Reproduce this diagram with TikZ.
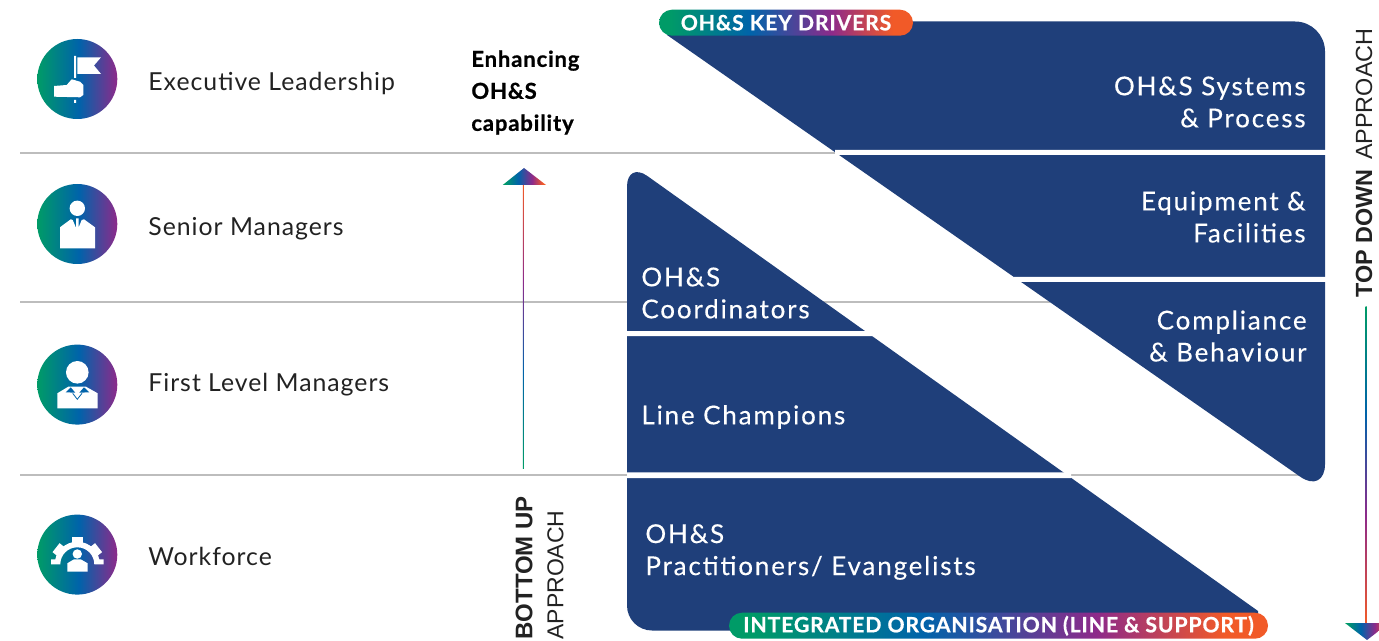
\documentclass[tikz,border=0pt]{standalone}
\usepackage{fontspec}
\usepackage{tikz}
\usetikzlibrary{calc, positioning}
\setmainfont[LetterSpace=4]{Lato}
\newfontfamily\approachfont{Liberation Sans}

\definecolor{ohsnavy}{HTML}{1F3F7A}
\definecolor{ohsgreen}{HTML}{009B67}
\definecolor{ohsblue}{HTML}{0063AA}
\definecolor{ohspurple}{HTML}{8D2A8A}
\definecolor{ohsorange}{HTML}{F15A28}
\definecolor{ohsrule}{HTML}{BDBDBD}
\definecolor{ohstext}{HTML}{222222}

\pgfdeclarehorizontalshading{ohsdisc}{100bp}{color(0bp)=(ohsgreen); color(25bp)=(ohsgreen); color(51bp)=(ohsblue); color(75bp)=(ohspurple); color(100bp)=(ohspurple)}
\pgfdeclarehorizontalshading{ohschip}{100bp}{color(0bp)=(ohsgreen); color(27bp)=(ohsgreen); color(43bp)=(ohsblue); color(59bp)=(ohspurple); color(71bp)=(ohsorange); color(100bp)=(ohsorange)}
\pgfdeclareverticalshading{ohsshaft}{100bp}{color(0bp)=(ohsgreen); color(25bp)=(ohsgreen); color(42bp)=(ohsblue); color(58bp)=(ohspurple); color(75bp)=(ohsorange); color(100bp)=(ohsorange)}

\tikzset{
    rowdisc/.style={circle, minimum size=40pt, inner sep=0pt, shade, shading=ohsdisc},
    rowlabel/.style={anchor=west, inner sep=0pt, text=ohstext, font=\fontsize{12.4}{16}\selectfont},
    panel/.style={fill=ohsnavy},
    gapband/.style={fill=white},
    paneltext/.style={inner sep=0pt, text=white, font=\fontsize{13}{16}\selectfont\addfontfeature{LetterSpace=7,FakeBold=0.25}},
    keychip/.style={rounded corners=6.5pt, inner sep=0pt, minimum height=13pt, shade, shading=ohschip, text=white, font=\fontsize{10.6}{12}\selectfont\bfseries\addfontfeature{FakeBold=0.6}},
    ruleline/.style={draw=ohsrule, line width=0.7pt},
    approach/.style={anchor=west, inner sep=0pt, rotate=90, text=ohstext},
    iconfill/.style={fill=white},
    collar/.style={fill=ohsblue}
}

\begin{document}
\begin{tikzpicture}[x=0.5pt, y=0.5pt]
                    \useasboundingbox (0, 0) rectangle (1379, -641);

                    \foreach \ypos/\xend in {153/835, 302/1050, 475/1300} {
                        \draw[ruleline] (20, -\ypos) -- (\xend, -\ypos);
                    }

                    \node[rowdisc] (exec) at (77.3, -79) {};
                    \node[rowdisc] (senior) at (77.3, -224) {};
                    \node[rowdisc] (first) at (77.3, -384.6) {};
                    \node[rowdisc] (work) at (77.3, -554.6) {};

                    \node[rowlabel] (execl) at (148, -83.5) {Executive Leadership};
                    \node[rowlabel] (seniorl) at (148, -228.5) {Senior Managers};
                    \node[rowlabel] (firstl) at (148, -384.5) {First Level Managers};
                    \node[rowlabel] (workl) at (148, -556) {Workforce};

                    % flag
                    \fill[iconfill]
                    (74, -56) rectangle (76, -78)
                    (74, -100) rectangle (76, -103)
                    (77.3, -57.3) -- (101, -57.3) -- (94, -65.5) -- (101, -74) -- (77.3, -74) -- cycle
                    (54, -86) -- (66.7, -85) -- (71.7, -79.3) -- (80, -81.7) -- (83.3, -85) -- (83.3, -95) -- (80, -97.3) -- (54, -96.7) -- cycle;

                    % suit
                    \fill[iconfill]
                    (77.3, -208.3) circle (7.7)
                    (60, -248.3) -- (95, -248.3) -- (95, -227.3) -- (84, -219.3) -- (81.7, -220) -- (77.3, -230.7) -- (72.7, -220) -- (70.7, -219.3) -- (60, -227.3) -- cycle
                    (76, -218.3) -- (78.7, -218.3) -- (78.7, -227.3) -- (77.3, -230.7) -- (76, -227.3) -- cycle;

                    % manager
                    \fill[iconfill]
                    (77.3, -372.3) circle (11.3)
                    (57.3, -408.3) -- (97.7, -408.3) -- (97.7, -393.3) -- (86, -386.7) -- (68.3, -386.7) -- (57.3, -393.3) -- cycle;
                    \fill[collar]
                    (65.7, -392.3) -- (70.7, -387.3) -- (75.3, -392.7) -- cycle
                    (89.3, -392.3) -- (84, -387.3) -- (79.3, -392.7) -- cycle;
                    \draw[ohsblue, line width=0.4pt] (72.7, -393.3) -- (77.3, -399.3) -- (82, -393.3);

                    % gear
                    \fill[iconfill]
                    (99.9, -564.3) arc[start angle=0, end angle=180, radius=22.6] -- (60.3, -564.3) arc[start angle=180, end angle=0, radius=17] -- cycle
                    (51, -559.3) rectangle (60.3, -564.3)
                    (94.3, -559.3) rectangle (103.7, -564.3)
                    (77.3, -554) circle (4.7)
                    (67.3, -571.7) -- (87.7, -571.7) -- (87.7, -563.3) -- (80.7, -559.3) -- (74, -559.3) -- (67.3, -563.3) -- cycle;
                    \foreach \angle in {38, 90, 142} {
                        \fill[iconfill, rotate around={\angle:(77.3, -564.3)}] (98, -570) rectangle (104.3, -558.6);
                    }

                    \node[anchor=west, inner sep=0pt, align=left, font=\fontsize{11}{16}\selectfont\bfseries\addfontfeature{FakeBold=0.8}] (enhance) at (471, -92.5) {Enhancing\\OH\&S\\capability};

                    \coordinate (upfoot) at (523.3, -468);
                    \coordinate (uptop) at (523.3, -185);
                    \coordinate (uptip) at (524, -168);
                    \shade[shading=ohsshaft] ($(upfoot) + (-0.5, 0)$) rectangle ($(uptop) + (0.5, 0)$);
                    \shade[shading=ohschip] (uptip) -- (502.7, -185) -- (546, -185) -- cycle;

                    \coordinate (downtop) at (1366, -307);
                    \coordinate (downfoot) at (1366, -623);
                    \coordinate (downtip) at (1367, -640);
                    \shade[shading=ohsshaft, shading angle=180] ($(downtop) + (-0.5, 0)$) rectangle ($(downfoot) + (0.5, 0)$);
                    \shade[shading=ohschip] (downtip) -- (1345, -623) -- (1389, -623) -- cycle;

                    \node[approach, font=\approachfont\fontsize{12}{14}\selectfont\bfseries] (bottomup) at (524, -640) {BOTTOM UP};
                    \node[approach, font=\approachfont\fontsize{11.5}{14}\selectfont] (upword) at (555.5, -640) {APPROACH};
                    \node[approach, font=\approachfont\fontsize{11.7}{14}\selectfont] (topdown) at (1364, -298) {{\bfseries TOP DOWN}\hspace{1.5pt} APPROACH};

                    % key drivers panel
                    \fill[panel] (680, -21.5) [rounded corners=15pt] -- (1325, -21.5) -- (1325, -494) [sharp corners] -- (667, -35) -- cycle;
                    % integrated panel
                    \fill[panel] (800, -630.5) [rounded corners=12.5pt] -- (627, -630.5) -- (627, -161.5) [sharp corners] -- (1258, -611) -- (1258, -630.5) -- cycle;

                    \fill[gapband]
                    (835, -150) rectangle (1330, -155)
                    (1014, -277) rectangle (1330, -282)
                    (627, -331) rectangle (874, -336)
                    (627, -472.3) rectangle (1071, -478);

                    \node[keychip, minimum width=127pt] (drivers) at (786, -22.7) {\raisebox{-0.7pt}{OH\&S KEY DRIVERS}};
                    \node[keychip, minimum width=269.5pt] (integrated) at (998.5, -625.7) {\raisebox{-0.7pt}{INTEGRATED ORGANISATION (LINE \& SUPPORT)}};

                    \node[paneltext, anchor=east, align=right] (systems) at (1306, -102) {OH\&S Systems\\\& Process};
                    \node[paneltext, anchor=east, align=right] (equipment) at (1306, -217) {Equipment \&\\Facilities};
                    \node[paneltext, anchor=east, align=right] (compliance) at (1307, -336) {Compliance\\\& Behaviour};
                    \node[paneltext, anchor=west, align=left] (coordinators) at (641, -293) {OH\&S\\Coordinators};
                    \node[paneltext, anchor=west] (champions) at (641, -417) {Line Champions};
                    \node[paneltext, anchor=west, align=left] (practitioners) at (645, -552) {OH\&S\\Practitioners/ Evangelists};
                \end{tikzpicture}
\end{document}
